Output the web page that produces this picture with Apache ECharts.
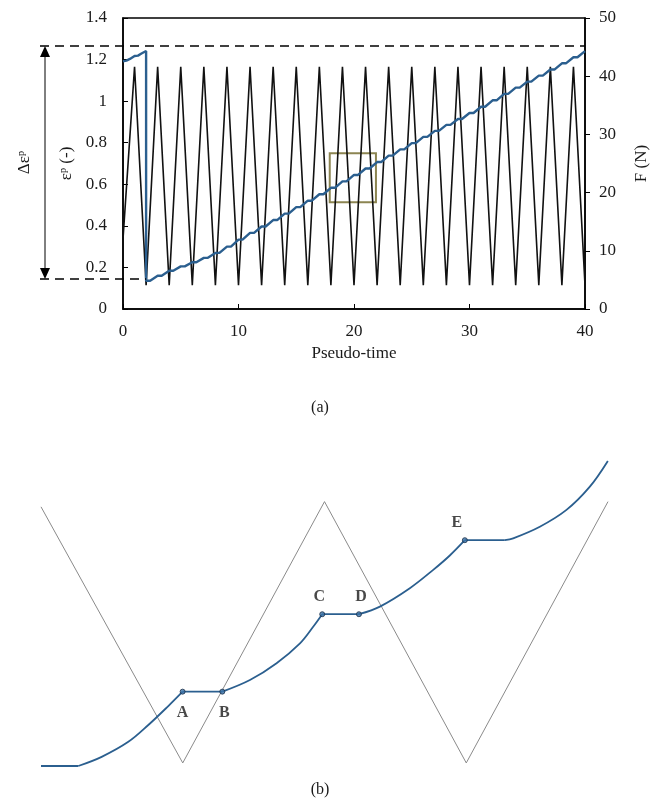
<!DOCTYPE html>
<html>
<head>
<meta charset="utf-8">
<script src="https://cdn.jsdelivr.net/npm/echarts@6/dist/echarts.min.js"></script>
<style>
  html, body { margin: 0; padding: 0; background: #fff; }
  #main { width: 660px; height: 801px; }
</style>
</head>
<body>
<div id="main"></div>
<script>
// (a) cyclic force, pseudo-time vs F (N)
var forceTime = [0, 1, 2, 3, 4, 5, 6, 7, 8, 9, 10, 11, 12, 13, 14, 15, 16, 17, 18, 19, 20,
  21, 22, 23, 24, 25, 26, 27, 28, 29, 30, 31, 32, 33, 34, 35, 36, 37, 38, 39, 40];
var forceValue = [12, 41.6, 4.1, 41.6, 4.1, 41.6, 4.1, 41.6, 4.1, 41.6, 4.1, 41.6, 4.1, 41.6, 4.1,
  41.6, 4.1, 41.6, 4.1, 41.6, 4.1, 41.6, 4.1, 41.6, 4.1, 41.6, 4.1, 41.6, 4.1, 41.6, 4.1,
  41.6, 4.1, 41.6, 4.1, 41.6, 4.1, 41.6, 4.1, 41.6, 4.1];

// (a) plastic strain, steps with a short plateau each half cycle
var strainCurve = [
  [0, 1.192], [0.3, 1.195], [0.6, 1.203], [1, 1.217], [1.3, 1.219], [1.6, 1.229], [2, 1.241],
  [2, 0.136], [2.35, 0.136], [3, 0.160], [3.35, 0.160], [4, 0.184], [4.35, 0.184],
  [5, 0.205], [5.35, 0.205], [6, 0.225], [6.35, 0.225], [7, 0.246], [7.35, 0.246],
  [8, 0.270], [8.35, 0.270], [9, 0.300], [9.35, 0.300], [10, 0.334], [10.35, 0.334],
  [11, 0.366], [11.35, 0.366], [12, 0.397], [12.35, 0.397], [13, 0.428], [13.35, 0.428],
  [14, 0.459], [14.35, 0.459], [15, 0.490], [15.35, 0.490], [16, 0.521], [16.35, 0.521],
  [17, 0.552], [17.35, 0.552], [18, 0.583], [18.35, 0.583], [19, 0.614], [19.35, 0.614],
  [20, 0.645], [20.35, 0.645], [21, 0.676], [21.35, 0.676], [22, 0.707], [22.35, 0.707],
  [23, 0.738], [23.35, 0.738], [24, 0.768], [24.35, 0.768], [25, 0.798], [25.35, 0.798],
  [26, 0.828], [26.35, 0.828], [27, 0.857], [27.35, 0.857], [28, 0.886], [28.35, 0.886],
  [29, 0.914], [29.35, 0.914], [30, 0.943], [30.35, 0.943], [31, 0.973], [31.35, 0.973],
  [32, 1.004], [32.35, 1.004], [33, 1.035], [33.35, 1.035], [34, 1.065], [34.35, 1.065],
  [35, 1.094], [35.35, 1.094], [36, 1.123], [36.35, 1.123], [37, 1.152], [37.35, 1.152],
  [38, 1.182], [38.35, 1.182], [39, 1.211], [39.35, 1.211], [40, 1.241]
];
var strainRange = [0.144, 1.265];    // dashed levels, Δε^p
var zoomBox = [[17.9, 0.749], [21.9, 0.514]];

// (b) schematic close-up (arbitrary units)
var loadX = [0, 1, 2, 3, 4];
var loadY = [84.7, 1, 86.4, 1, 86.4];
var startFlat = [0, 0];
var rise1 = [[0.263, 0], [0.428, 3.0], [0.616, 7.9], [0.757, 13.4], [0.898, 19.6], [0.999, 24.3]];
var rise2 = [[1.279, 24.3], [1.474, 28.1], [1.662, 33.6], [1.827, 40.1], [1.920, 45.5], [1.984, 49.6]];
var rise3 = [[2.243, 49.6], [2.391, 52.1], [2.602, 58.1], [2.767, 64.1], [2.884, 68.8], [2.990, 73.8]];
var rise4 = [[3.272, 73.8], [3.331, 74.4], [3.519, 78.2], [3.707, 83.7], [3.872, 91.3], [3.999, 99.7]];
var pointNames = ['A', 'B', 'C', 'D', 'E'];
var pointX = [0.999, 1.279, 1.984, 2.243, 2.990];
var pointY = [24.3, 24.3, 49.6, 49.6, 73.8];

var serif = 'Liberation Serif';
var ink = '#1a1a1a';
var blue = '#2b5f8f';

var chart = echarts.init(document.getElementById('main'));

var forceData = forceTime.map(function (t, i) { return [t, forceValue[i]]; });
var loadData = loadX.map(function (x, i) { return [x, loadY[i]]; });
var labelPos = ['bottom', 'bottom', 'top', 'top', 'top'];
var labelOff = [[0, 4], [2, 4], [-3, 0], [2, 0], [-8, 0]];
var pointData = pointNames.map(function (n, i) {
  return {
    name: n, value: [pointX[i], pointY[i]],
    label: { position: labelPos[i], offset: labelOff[i] }
  };
});

// plateaus join the end of one rise to the start of the next
var rises = [rise1, rise2, rise3, rise4];
var plateaus = [[startFlat, rise1[0]]];
for (var k = 0; k < rises.length - 1; k++) {
  plateaus.push([rises[k][rises[k].length - 1], rises[k + 1][0]]);
}
var curveB = rises.map(function (d) {
  return {
    type: 'line', xAxisIndex: 1, yAxisIndex: 2, data: d, smooth: 0.35,
    symbol: 'none', lineStyle: { color: blue, width: 1.8 }
  };
}).concat(plateaus.map(function (d) {
  return {
    type: 'line', xAxisIndex: 1, yAxisIndex: 2, data: d,
    symbol: 'none', lineStyle: { color: blue, width: 1.8 }
  };
}));

var axisText = { fontFamily: serif, fontSize: 17, color: ink };

chart.setOption({
  animation: false,
  grid: [
    { left: 123, top: 18, width: 462, height: 291, show: true, borderColor: '#000', borderWidth: 1.5 },
    { left: 41, top: 460, width: 567, height: 306 }
  ],
  xAxis: [
    {
      type: 'value', gridIndex: 0, min: 0, max: 40, interval: 10,
      axisLine: { lineStyle: { color: '#000', width: 1.5 } },
      axisTick: { inside: true, length: 5, lineStyle: { color: '#000' } },
      axisLabel: Object.assign({ margin: 14 }, axisText),
      splitLine: { show: false },
      name: 'Pseudo-time', nameLocation: 'middle', nameGap: 36,
      nameTextStyle: axisText
    },
    { type: 'value', gridIndex: 1, min: 0, max: 4, show: false }
  ],
  yAxis: [
    {
      type: 'value', gridIndex: 0, min: 0, max: 1.4, interval: 0.2, position: 'left',
      axisLine: { show: true, lineStyle: { color: '#000', width: 1.5 } },
      axisTick: { show: true, inside: true, length: 5, lineStyle: { color: '#000' } },
      axisLabel: Object.assign({ margin: 16 }, axisText),
      splitLine: { show: false },
      name: 'εᵖ (-)', nameLocation: 'middle', nameGap: 40, nameRotate: 90,
      nameTextStyle: axisText
    },
    {
      type: 'value', gridIndex: 0, min: 0, max: 50, interval: 10, position: 'right',
      axisLine: { show: true, lineStyle: { color: '#000', width: 1.5 } },
      axisTick: { show: true, inside: false, length: 5, lineStyle: { color: '#000' } },
      axisLabel: Object.assign({ margin: 14 }, axisText),
      splitLine: { show: false },
      name: 'F (N)', nameLocation: 'middle', nameGap: 48, nameRotate: 90,
      nameTextStyle: axisText
    },
    { type: 'value', gridIndex: 1, min: 0, max: 100, show: false }
  ],
  series: [
    {
      name: 'F', type: 'line', xAxisIndex: 0, yAxisIndex: 1, data: forceData,
      symbol: 'none', lineStyle: { color: '#111', width: 1.6 }
    },
    {
      name: 'strain', type: 'line', xAxisIndex: 0, yAxisIndex: 0, data: strainCurve,
      symbol: 'none', lineStyle: { color: blue, width: 2.4 },
      markArea: {
        silent: true,
        itemStyle: { color: 'rgba(0,0,0,0)', borderColor: '#8c8552', borderWidth: 2 },
        data: [[{ coord: zoomBox[0] }, { coord: zoomBox[1] }]]
      }
    },
    {
      name: 'load-b', type: 'line', xAxisIndex: 1, yAxisIndex: 2, data: loadData,
      symbol: 'none', lineStyle: { color: '#8a8a8a', width: 1 }
    }
  ].concat(curveB).concat([
    {
      name: 'points', type: 'scatter', xAxisIndex: 1, yAxisIndex: 2, data: pointData,
      symbol: 'circle', symbolSize: 5, z: 5,
      itemStyle: { color: '#3a72a8', borderColor: '#1b2f48', borderWidth: 1 },
      label: {
        show: true, formatter: '{b}', distance: 6,
        fontFamily: serif, fontSize: 16, fontWeight: 'bold', color: ink
      }
    }
  ])
});

// annotations left of panel (a): dashed levels and the Δε^p arrow
var pTop = chart.convertToPixel({ seriesIndex: 1 }, [40, strainRange[1]]);
var pBot = chart.convertToPixel({ seriesIndex: 1 }, [2, strainRange[0]]);
var ax = 45;
var dash = { stroke: '#000', lineWidth: 1.5, lineDash: [9, 6] };
chart.setOption({
  graphic: [
    { type: 'line', shape: { x1: 40, y1: pTop[1], x2: pTop[0], y2: pTop[1] }, style: dash, z: 10 },
    { type: 'line', shape: { x1: 40, y1: pBot[1], x2: pBot[0], y2: pBot[1] }, style: dash, z: 10 },
    { type: 'line', shape: { x1: ax, y1: pTop[1] + 8, x2: ax, y2: pBot[1] - 8 }, style: { stroke: '#000', lineWidth: 1 } },
    { type: 'polygon', shape: { points: [[ax, pTop[1]], [ax - 5, pTop[1] + 11], [ax + 5, pTop[1] + 11]] }, style: { fill: '#000' } },
    { type: 'polygon', shape: { points: [[ax, pBot[1]], [ax - 5, pBot[1] - 11], [ax + 5, pBot[1] - 11]] }, style: { fill: '#000' } },
    {
      type: 'text', x: 25, y: (pTop[1] + pBot[1]) / 2, rotation: Math.PI / 2,
      style: { text: 'Δεᵖ', fontFamily: serif, fontSize: 17, fill: ink, align: 'center', verticalAlign: 'middle' }
    },
    {
      type: 'text', x: 320, y: 408,
      style: { text: '(a)', fontFamily: serif, fontSize: 16, fill: ink, align: 'center', verticalAlign: 'middle' }
    },
    {
      type: 'text', x: 320, y: 790,
      style: { text: '(b)', fontFamily: serif, fontSize: 16, fill: ink, align: 'center', verticalAlign: 'middle' }
    }
  ]
});
</script>
</body>
</html>
